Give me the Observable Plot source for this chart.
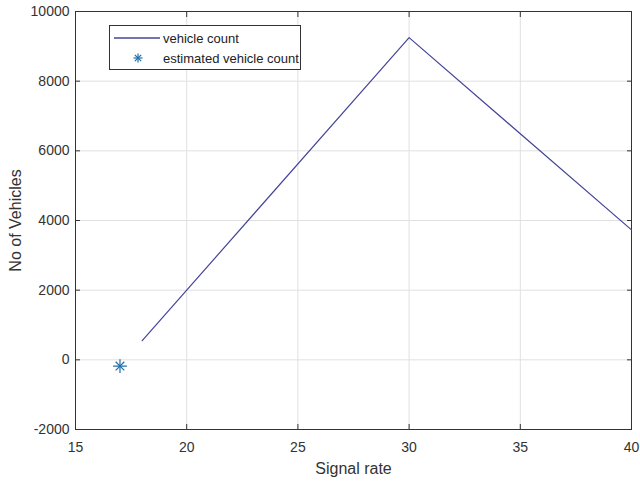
<!DOCTYPE html>
<html><head><meta charset="utf-8">
<script src="https://cdn.jsdelivr.net/npm/d3@7"></script>
<script src="https://cdn.jsdelivr.net/npm/@observablehq/plot@0.6"></script>
<style>
body{margin:0;background:#fff;font-family:"Liberation Sans",Arial,sans-serif;}
#wrap{position:relative;width:640px;height:484px;}
#legend{position:absolute;left:109px;top:25px;width:192px;height:45px;border:1px solid #333;background:#fff;font-size:13px;color:#222;box-sizing:border-box;}
#legend .row{position:absolute;left:2px;display:flex;align-items:center;}
</style></head>
<body><div id="wrap"></div>
<script>
const signalRate = [18, 30, 40];
const vehicleCount = [550, 9250, 3730];
const estRate = [17];
const estCount = [-180];
const xTicks = [15, 20, 25, 30, 35, 40];
const yTicks = [-2000, 0, 2000, 4000, 6000, 8000, 10000];
const legendLabels = ["vehicle count", "estimated vehicle count"];

const lineData = signalRate.map((x, i) => ({x, y: vehicleCount[i]}));
const estData = estRate.map((x, i) => ({x, y: estCount[i]}));
const lineColor = "#45459a";
const starColor = "#1f6fa8";
const fmt = d => String(d);

const chart = Plot.plot({
  width: 640, height: 484,
  marginLeft: 75, marginRight: 9, marginTop: 11, marginBottom: 55,
  style: {fontFamily: "'Liberation Sans', Arial, sans-serif", fontSize: "13px", color: "#333", background: "#fff"},
  x: {domain: [15, 40]},
  y: {domain: [-2000, 10000]},
  marks: [
    Plot.gridX(xTicks, {stroke: "#e0e0e0", strokeOpacity: 1}),
    Plot.gridY(yTicks, {stroke: "#e0e0e0", strokeOpacity: 1}),
    Plot.axisX(xTicks, {anchor: "bottom", tickSize: -5, tickPadding: 18, fontSize: 14, tickFormat: fmt, label: "Signal rate", labelAnchor: "center", labelArrow: "none", labelOffset: 44, stroke: "#333"}),
    Plot.axisX(xTicks, {anchor: "top", tickSize: -5, tickFormat: () => "", label: null, stroke: "#333"}),
    Plot.axisY(yTicks, {anchor: "left", tickSize: -5, tickPadding: 11, fontSize: 14, tickFormat: fmt, label: "No of Vehicles", labelAnchor: "center", labelArrow: "none", labelOffset: 66, stroke: "#333"}),
    Plot.axisY(yTicks, {anchor: "right", tickSize: -5, tickFormat: () => "", label: null, stroke: "#333"}),
    Plot.frame({stroke: "#333", strokeWidth: 1}),
    Plot.line(lineData, {x: "x", y: "y", stroke: lineColor, strokeWidth: 1.2}),
    Plot.dot(estData, {x: "x", y: "y", symbol: "plus", r: 4.5, stroke: starColor, strokeWidth: 1.2}),
    Plot.dot(estData, {x: "x", y: "y", symbol: "times", r: 4, stroke: starColor, strokeWidth: 1.2})
  ]
});
const wrap = document.getElementById("wrap");
wrap.appendChild(chart);
chart.querySelectorAll("text").forEach(t => { if (t.textContent === "Signal rate" || t.textContent === "No of Vehicles") t.setAttribute("font-size", "16"); });

const leg = document.createElement("div");
leg.id = "legend";
leg.innerHTML = `
<div class="row" style="top:4px"><svg width="50" height="16"><line x1="2" y1="8" x2="48" y2="8" stroke="${lineColor}" stroke-width="1.3"/></svg><span style="margin-left:1px">${legendLabels[0]}</span></div>
<div class="row" style="top:24px"><svg width="50" height="16"><g stroke="${starColor}" stroke-width="1.2" transform="translate(26,8)"><line x1="-4.5" y1="0" x2="4.5" y2="0"/><line x1="0" y1="-4.5" x2="0" y2="4.5"/><line x1="-3.2" y1="-3.2" x2="3.2" y2="3.2"/><line x1="-3.2" y1="3.2" x2="3.2" y2="-3.2"/></g></svg><span style="margin-left:1px">${legendLabels[1]}</span></div>`;
wrap.appendChild(leg);
</script></body></html>
